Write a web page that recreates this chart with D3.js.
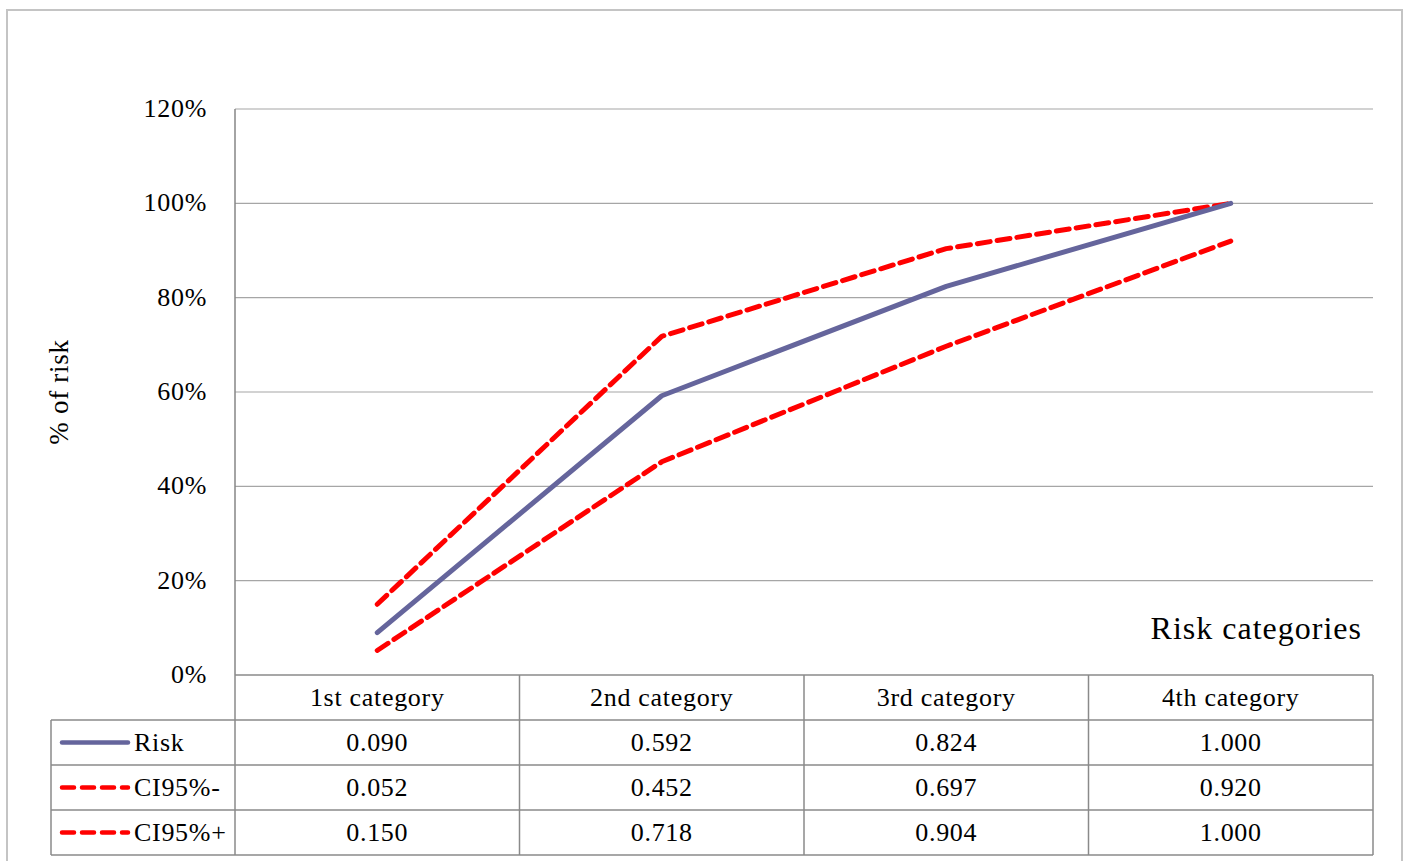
<!DOCTYPE html>
<html><head><meta charset="utf-8">
<script src="https://cdn.jsdelivr.net/npm/d3@7"></script>
<style>
html,body{margin:0;padding:0;background:#fff;}
text{font-family:"Palatino Linotype","Book Antiqua",Palatino,"Liberation Serif",serif;fill:#000;letter-spacing:0.7px;}
</style></head>
<body>
<svg id="c" width="1408" height="861"></svg>
<script>
const categories = ["1st category","2nd category","3rd category","4th category"];
const riskValues = [0.090, 0.592, 0.824, 1.000];
const ciLowValues = [0.052, 0.452, 0.697, 0.920];
const ciHighValues = [0.150, 0.718, 0.904, 1.000];
const yTicks = [0, 0.2, 0.4, 0.6, 0.8, 1.0, 1.2];
const seriesNames = ["Risk","CI95%-","CI95%+"];

const series = [
  {name: seriesNames[0], values: riskValues, color: "#65659c", dash: null},
  {name: seriesNames[1], values: ciLowValues, color: "#ff0000", dash: "13,7"},
  {name: seriesNames[2], values: ciHighValues, color: "#ff0000", dash: "13,7"}
];

const svg = d3.select("#c");
const L = 235, R = 1373, T = 109, B = 675;
const rowH = 45, legendL = 51;
const tableBottom = B + rowH * 4;
const fs = 26;

// outer frame
svg.append("rect").attr("x",7).attr("y",10).attr("width",1395).attr("height",870)
  .attr("fill","none").attr("stroke","#c4c4c4").attr("stroke-width",2);

const x = d3.scaleBand().domain(categories).range([L, R]).padding(0);
const y = d3.scaleLinear().domain([0, 1.2]).range([B, T]);

// gridlines
svg.append("g").selectAll("line").data(yTicks.filter(d => d > 0)).join("line")
  .attr("x1", L).attr("x2", R).attr("y1", d => y(d)).attr("y2", d => y(d))
  .attr("stroke", "#a6a6a6").attr("stroke-width", 1.2);

// y axis line
svg.append("line").attr("x1", L).attr("x2", L).attr("y1", T).attr("y2", B)
  .attr("stroke", "#868686").attr("stroke-width", 1.5);

// y tick labels
svg.append("g").selectAll("text").data(yTicks).join("text")
  .attr("x", 207).attr("y", d => y(d) + 8)
  .attr("text-anchor", "end").attr("font-size", fs)
  .text(d => d3.format(".0%")(d));

// y title
svg.append("text").attr("transform", "translate(68,392) rotate(-90)")
  .attr("text-anchor", "middle").attr("font-size", 27).text("% of risk");

// x title
svg.append("text").attr("x", 1362).attr("y", 639).attr("text-anchor", "end")
  .attr("font-size", 32).style("letter-spacing", "1px").text("Risk categories");

// table lines
const tg = svg.append("g").attr("stroke", "#8a8a8a").attr("stroke-width", 1.5);
tg.append("line").attr("x1", L).attr("x2", R).attr("y1", B).attr("y2", B);
[1,2,3,4].forEach(i => {
  tg.append("line").attr("x1", legendL).attr("x2", R).attr("y1", B + rowH*i).attr("y2", B + rowH*i);
});
categories.forEach(c => {
  tg.append("line").attr("x1", x(c)).attr("x2", x(c)).attr("y1", B).attr("y2", tableBottom);
});
tg.append("line").attr("x1", R).attr("x2", R).attr("y1", B).attr("y2", tableBottom);
tg.append("line").attr("x1", legendL).attr("x2", legendL).attr("y1", B + rowH).attr("y2", tableBottom);

// category header
svg.append("g").selectAll("text").data(categories).join("text")
  .attr("x", d => x(d) + x.bandwidth()/2).attr("y", B + rowH/2 + 8)
  .attr("text-anchor", "middle").attr("font-size", fs).text(d => d);

// rows
series.forEach((s, i) => {
  const cy = B + rowH*(i+1) + rowH/2;
  svg.append("line").attr("x1", 62).attr("x2", 128).attr("y1", cy).attr("y2", cy)
    .attr("stroke", s.color).attr("stroke-width", 4.5).attr("stroke-linecap", "round")
    .attr("stroke-dasharray", s.dash ? "12,8" : null);
  svg.append("text").attr("x", 134).attr("y", cy + 8).attr("font-size", fs).text(s.name);
  svg.append("g").selectAll("text").data(s.values).join("text")
    .attr("x", (d, j) => x(categories[j]) + x.bandwidth()/2).attr("y", cy + 8)
    .attr("text-anchor", "middle").attr("font-size", fs).text(d => d3.format(".3f")(d));
});

// lines
const line = d3.line().x((d, j) => x(categories[j]) + x.bandwidth()/2).y(d => y(d));
series.slice().reverse().forEach(s => {
  svg.append("path").attr("d", line(s.values)).attr("fill", "none")
    .attr("stroke", s.color).attr("stroke-width", 5)
    .attr("stroke-linecap", "round").attr("stroke-linejoin", "round")
    .attr("stroke-dasharray", s.dash);
});
</script>
</body></html>
